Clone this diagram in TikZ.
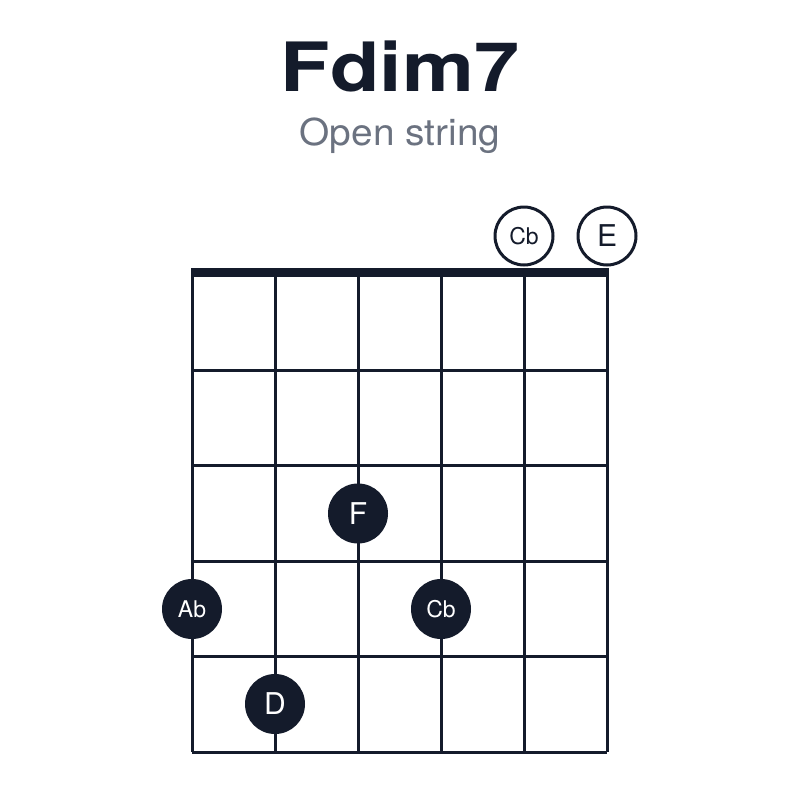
\documentclass[tikz,border=0pt]{standalone}
\usepackage{fontspec}
\setmainfont{TeX Gyre Heros}
\definecolor{ink}{HTML}{141B2B}
\definecolor{slate}{HTML}{6B7280}
\tikzstyle{fretline}=[draw=ink,line width=3pt,line cap=square]
\tikzstyle{finger}=[circle,fill=ink,text=white,minimum size=60pt,inner sep=0pt]
\tikzstyle{openstring}=[circle,draw=ink,line width=3pt,fill=white,text=ink,minimum size=58pt,inner sep=0pt]
\tikzstyle{big}=[font=\fontsize{30}{30}\selectfont]
\tikzstyle{small}=[font=\fontsize{23}{23}\selectfont]

\begin{document}
\begin{tikzpicture}[x=1pt,y=-1pt]
\useasboundingbox[fill=white] (0,0) rectangle (800,800);

\node[anchor=base,text=ink,font=\fontsize{68}{68}\selectfont\bfseries] (title) at (400,92) {\scalebox{1.19}[1]{Fdim7}};
\node[anchor=base,text=slate,font=\fontsize{37}{37}\selectfont] (subtitle) at (400,145) {\scalebox{1.05}[1]{Open string}};

\draw[fretline] (192,275)--(192,752);
\draw[fretline] (275,275)--(275,752);
\draw[fretline] (358,275)--(358,752);
\draw[fretline] (441,275)--(441,752);
\draw[fretline] (524,275)--(524,752);
\draw[fretline] (607,275)--(607,752);

\draw[fretline] (192,370.4)--(607,370.4);
\draw[fretline] (192,465.8)--(607,465.8);
\draw[fretline] (192,561.2)--(607,561.2);
\draw[fretline] (192,656.6)--(607,656.6);
\draw[fretline] (192,752)--(607,752);

\fill[ink] (190.5,268) rectangle (608.5,277);

\node[openstring,small] (open5) at (524,236) {Cb};
\node[openstring,big] (open6) at (607,236) {E};

\node[finger,big] (f3) at (358,513.5) {F};
\node[finger,small] (ab1) at (192,609) {Ab};
\node[finger,small] (cb4) at (441,609) {Cb};
\node[finger,big] (d2) at (275,704) {D};
\end{tikzpicture}
\end{document}
